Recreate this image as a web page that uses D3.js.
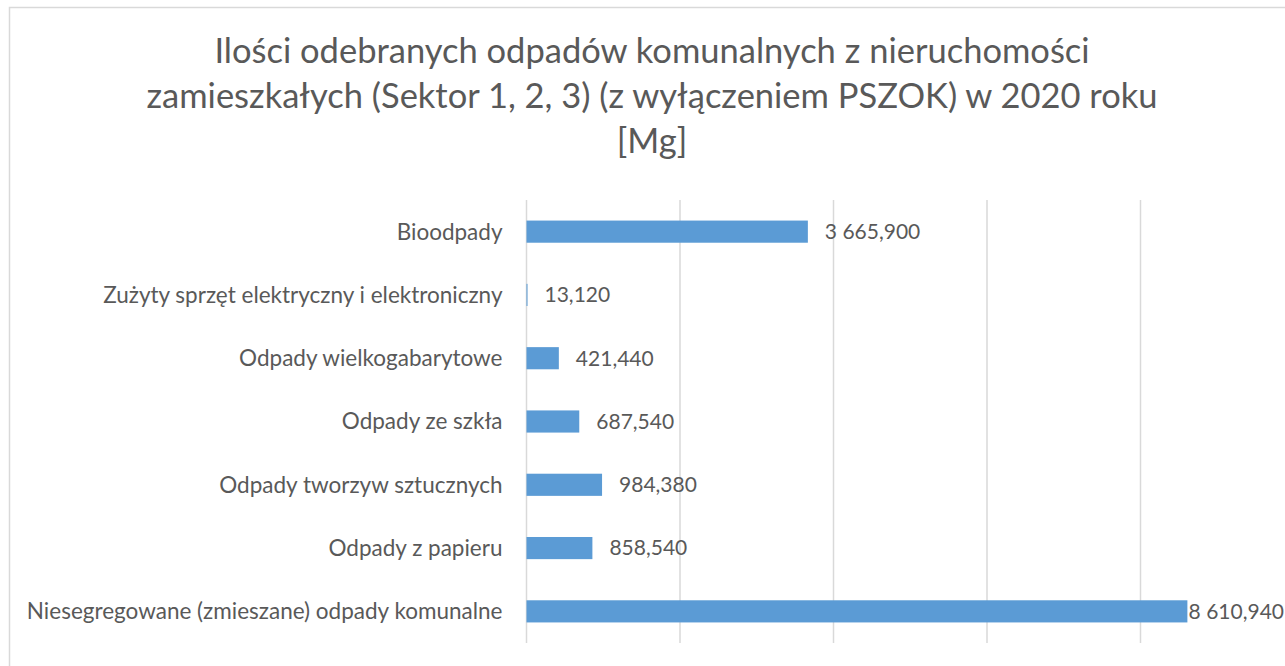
<!DOCTYPE html>
<html>
<head>
<meta charset="utf-8">
<script src="https://cdn.jsdelivr.net/npm/d3@7"></script>
<style>
  body { margin: 0; background: #fff; }
  svg { display: block; }
  text { font-family: Lato, "Open Sans", sans-serif; fill: #595959; }
</style>
</head>
<body>
<svg id="chart" width="1285" height="666"></svg>
<script>
const categories = [
  "Bioodpady",
  "Zużyty sprzęt elektryczny i elektroniczny",
  "Odpady wielkogabarytowe",
  "Odpady ze szkła",
  "Odpady tworzyw sztucznych",
  "Odpady z papieru",
  "Niesegregowane (zmieszane) odpady komunalne"
];
const values = [3665.9, 13.12, 421.44, 687.54, 984.38, 858.54, 8610.94];
const gridTicks = [0, 2000, 4000, 6000, 8000, 10000];
const titleLines = [
  "Ilości odebranych odpadów komunalnych z nieruchomości",
  "zamieszkałych (Sektor 1, 2, 3) (z wyłączeniem PSZOK) w 2020 roku",
  "[Mg]"
];

const W = 1285, H = 666;
const svg = d3.select("svg#chart");

// chart border (right/bottom edges fall outside the picture)
svg.append("rect")
  .attr("x", 9.5).attr("y", 7.5)
  .attr("width", 1300).attr("height", 700)
  .attr("fill", "#fff")
  .attr("stroke", "#d9d9d9")
  .attr("stroke-width", 1.5);

const pl = { left: 526.5, top: 200, bottom: 643 };

const xScale = d3.scaleLinear().domain([0, 10000]).range([pl.left, pl.left + 767.5]);
const yScale = d3.scaleBand()
  .domain(categories)
  .range([pl.top, pl.bottom])
  .paddingInner(0.65)
  .paddingOuter(0.325);

const pl_locale = d3.formatLocale({ decimal: ",", thousands: " ", grouping: [3], currency: ["", " zł"] });
const fmt = pl_locale.format(",.3f");

// title
svg.append("g")
  .selectAll("text")
  .data(titleLines)
  .enter()
  .append("text")
  .attr("x", 652)
  .attr("y", (d, i) => 63 + i * 45)
  .attr("text-anchor", "middle")
  .style("font-size", "34.5px")
  .text(d => d);

// gridlines
svg.append("g")
  .selectAll("line")
  .data(gridTicks)
  .enter()
  .append("line")
  .attr("x1", d => xScale(d))
  .attr("x2", d => xScale(d))
  .attr("y1", pl.top)
  .attr("y2", pl.bottom)
  .attr("stroke", "#d9d9d9")
  .attr("stroke-width", 1.5);

// bars
svg.append("g")
  .selectAll("rect")
  .data(values)
  .enter()
  .append("rect")
  .attr("x", xScale(0))
  .attr("y", (d, i) => yScale(categories[i]))
  .attr("width", d => xScale(d) - xScale(0))
  .attr("height", yScale.bandwidth())
  .attr("fill", "#5b9bd5");

// category labels
svg.append("g")
  .selectAll("text")
  .data(categories)
  .enter()
  .append("text")
  .attr("x", pl.left - 24)
  .attr("y", d => yScale(d) + yScale.bandwidth() / 2)
  .attr("dy", "0.35em")
  .attr("text-anchor", "end")
  .style("font-size", "22.5px")
  .text(d => d);

// value labels, kept inside the picture
svg.append("g")
  .selectAll("text")
  .data(values)
  .enter()
  .append("text")
  .attr("y", (d, i) => yScale(categories[i]) + yScale.bandwidth() / 2)
  .attr("dy", "0.35em")
  .style("font-size", "21px")
  .text(d => fmt(d))
  .each(function (d) {
    const w = this.getComputedTextLength();
    const x = Math.min(xScale(d) + 17, W - w - 1);
    d3.select(this).attr("x", x);
  });
</script>
</body>
</html>
